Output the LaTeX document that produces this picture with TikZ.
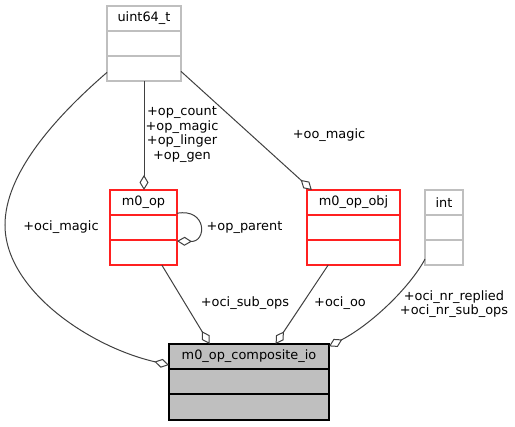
\documentclass[tikz,border=0pt]{standalone}
\usepackage{fontspec}
\setmainfont{DejaVu Sans}
\usetikzlibrary{arrows.meta,calc}
\definecolor{edgec}{HTML}{404040}
\definecolor{grayc}{HTML}{BFBFBF}
\definecolor{redc}{HTML}{FF2020}
\begin{document}
\begin{tikzpicture}[x=1pt,y=-1pt,
  every node/.style={font=\fontsize{12.9}{14.6}\selectfont},
  graybox/.style={draw=grayc,fill=white,line width=1.2pt,inner sep=0pt,outer sep=0pt},
  redbox/.style={draw=redc,fill=white,line width=1.2pt,inner sep=0pt,outer sep=0pt},
  mainbox/.style={draw=black,fill=grayc,line width=1.2pt,inner sep=0pt,outer sep=0pt},
  titletext/.style={inner sep=0pt,anchor=center},
  agg/.style={draw=edgec,line width=1pt,-{Diamond[open,length=15pt,width=9pt,line width=1pt]}},
  lbl/.style={align=center,inner sep=0pt}]
\useasboundingbox (0,0) rectangle (515,427);

% uint64_t
\node[graybox,minimum width=74pt,minimum height=75pt] (u) at (144,43.5) {};
\node[titletext] (ut) at ($(u.north)+(0,12.5)$) {uint64\_t};
\draw[grayc,line width=1.2pt] ($(u.north west)+(0,25)$) -- ($(u.north east)+(0,25)$);
\draw[grayc,line width=1.2pt] ($(u.north west)+(0,50)$) -- ($(u.north east)+(0,50)$);

% m0_op
\node[redbox,minimum width=67pt,minimum height=75pt] (m) at (143.5,227.5) {};
\node[titletext] (mt) at ($(m.north)+(0,12.5)$) {m0\_op};
\draw[redc,line width=1.2pt] ($(m.north west)+(0,25)$) -- ($(m.north east)+(0,25)$);
\draw[redc,line width=1.2pt] ($(m.north west)+(0,50)$) -- ($(m.north east)+(0,50)$);

% m0_op_obj
\node[redbox,minimum width=93pt,minimum height=75pt] (o) at (353.5,227.5) {};
\node[titletext] (ot) at ($(o.north)+(0,12.5)$) {m0\_op\_obj};
\draw[redc,line width=1.2pt] ($(o.north west)+(0,25)$) -- ($(o.north east)+(0,25)$);
\draw[redc,line width=1.2pt] ($(o.north west)+(0,50)$) -- ($(o.north east)+(0,50)$);

% int
\node[graybox,minimum width=38pt,minimum height=75pt] (i) at (444,227.5) {};
\node[titletext] (it) at ($(i.north)+(0,12.5)$) {int};
\draw[grayc,line width=1.2pt] ($(i.north west)+(0,25)$) -- ($(i.north east)+(0,25)$);
\draw[grayc,line width=1.2pt] ($(i.north west)+(0,50)$) -- ($(i.north east)+(0,50)$);

% m0_op_composite_io
\node[mainbox,minimum width=160pt,minimum height=76pt] (c) at (249,382) {};
\node[titletext] (ct) at ($(c.north)+(0,12.5)$) {m0\_op\_composite\_io};
\draw[black,line width=1.2pt] ($(c.north west)+(0,25)$) -- ($(c.north east)+(0,25)$);
\draw[black,line width=1.2pt] ($(c.north west)+(0,50)$) -- ($(c.north east)+(0,50)$);

% connectors
\draw[agg] (u.south) -- (u.south |- m.north);
\node[lbl] (l1) at (182,134.5) {+op\_count\\+op\_magic\\+op\_linger\\+op\_gen};

\draw[agg] (u.-37.6) -- (o.138);
\node[lbl] (l2) at (329,135) {+oo\_magic};

\coordinate (lw) at (5,225);
\draw[agg] (u.218.6) .. controls (52,120) and (5,175) .. (lw)
  .. controls (5,290) and (90,347) .. (c.168);
\node[lbl] (l3) at (61,227) {+oci\_magic};

\draw[agg] (m.23) .. controls (207,208) and (207,242) .. (m.-22);
\node[lbl] (l4) at (244.5,227) {+op\_parent};

\draw[agg] (m.-64) -- (c.136);
\node[lbl] (l5) at (245,303) {+oci\_sub\_ops};

\draw[agg] (o.236) -- (c.55);
\node[lbl] (l6) at (340,303) {+oci\_oo};

\draw[agg] (i.239) .. controls (410,287) and (372,324) .. (c.24);
\node[lbl] (l7) at (454,304) {+oci\_nr\_replied\\+oci\_nr\_sub\_ops};
\end{tikzpicture}
\end{document}
